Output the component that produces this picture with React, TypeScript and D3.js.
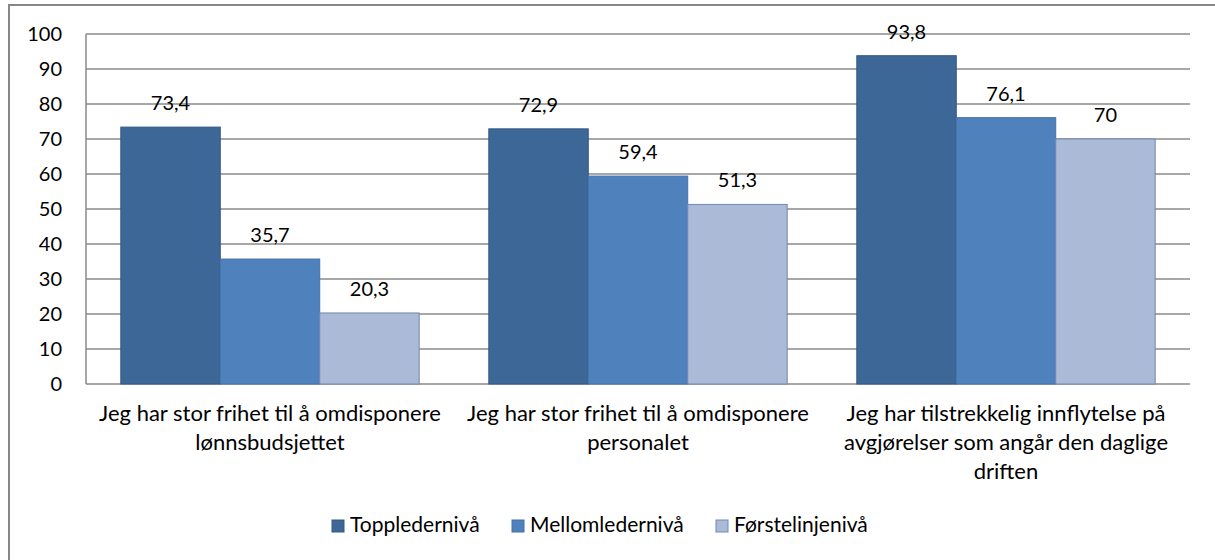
import React from "react";
import * as d3 from "d3";

const categories: string[][] = [
  ["Jeg har stor frihet til å omdisponere", "lønnsbudsjettet"],
  ["Jeg har stor frihet til å omdisponere", "personalet"],
  ["Jeg har tilstrekkelig innflytelse på", "avgjørelser som angår den daglige", "driften"],
];
const seriesNames = ["Toppledernivå", "Mellomledernivå", "Førstelinjenivå"];
const toppleder = [73.4, 72.9, 93.8];
const mellomleder = [35.7, 59.4, 76.1];
const forstelinje = [20.3, 51.3, 70];
const yTicks = [0, 10, 20, 30, 40, 50, 60, 70, 80, 90, 100];

const fills = ["#3D6797", "#4F81BD", "#AABAD7"];
const strokes = ["#335A87", "#4572A8", "#7088B4"];

const W = 1215;
const H = 560;
const plot = { left: 86, right: 1190, top: 34, bottom: 384 };
const FONT = "Lato, 'Open Sans', sans-serif";
const FS_NUM = 20;
const FS_CAT = 22;
const FS_LEG = 21;

export default function App() {
  const series = [toppleder, mellomleder, forstelinje];
  const x0 = d3
    .scaleBand<number>()
    .domain(d3.range(categories.length))
    .range([plot.left, plot.right])
    .padding(0);
  const x1 = d3
    .scaleBand<number>()
    .domain(d3.range(series.length))
    .range([0, x0.bandwidth()])
    .paddingInner(0)
    .paddingOuter(0.35);
  const y = d3.scaleLinear().domain([0, 100]).range([plot.bottom, plot.top]);
  const fmt = (v: number) => String(v).replace(".", ",");

  const legendX = [332, 512, 716];

  return (
    <svg
      width={W}
      height={H}
      style={{ position: "absolute", left: 0, top: 0, background: "#fff" }}
      fontFamily={FONT}
    >
      <rect x={0} y={0} width={W} height={H} fill="#fff" />
      <rect x={9} y={5} width={W + 20} height={H + 20} fill="none" stroke="#878787" strokeWidth={2} />
      {yTicks.map((t) => (
        <g key={t}>
          <line
            x1={plot.left}
            x2={plot.right}
            y1={y(t)}
            y2={y(t)}
            stroke="#8a8a8a"
            strokeWidth={1.5}
          />
          <text x={62} y={y(t) + 7} textAnchor="end" fontSize={FS_NUM} fill="#000">
            {t}
          </text>
        </g>
      ))}
      <line x1={plot.left} x2={plot.left} y1={plot.top} y2={plot.bottom} stroke="#8a8a8a" strokeWidth={1.5} />
      {categories.map((cat, ci) => (
        <g key={ci} transform={`translate(${x0(ci)},0)`}>
          {series.map((s, si) => (
            <g key={si}>
              <rect
                x={x1(si)!}
                y={y(s[ci])}
                width={x1.bandwidth()}
                height={y(0) - y(s[ci])}
                fill={fills[si]}
                stroke={strokes[si]}
                strokeWidth={1}
              />
              <text
                x={x1(si)! + x1.bandwidth() / 2}
                y={y(s[ci]) - 17}
                textAnchor="middle"
                fontSize={FS_NUM}
                fill="#000"
              >
                {fmt(s[ci])}
              </text>
            </g>
          ))}
          {cat.map((line, li) => (
            <text
              key={li}
              x={x0.bandwidth() / 2}
              y={421 + li * 29}
              textAnchor="middle"
              fontSize={FS_CAT}
              fill="#000"
            >
              {line}
            </text>
          ))}
        </g>
      ))}
      {seriesNames.map((n, i) => (
        <g key={n}>
          <rect x={legendX[i]} y={520} width={12} height={12} fill={fills[i]} stroke={strokes[i]} strokeWidth={1} />
          <text x={legendX[i] + 18} y={532} fontSize={FS_LEG} fill="#000">
            {n}
          </text>
        </g>
      ))}
    </svg>
  );
}
